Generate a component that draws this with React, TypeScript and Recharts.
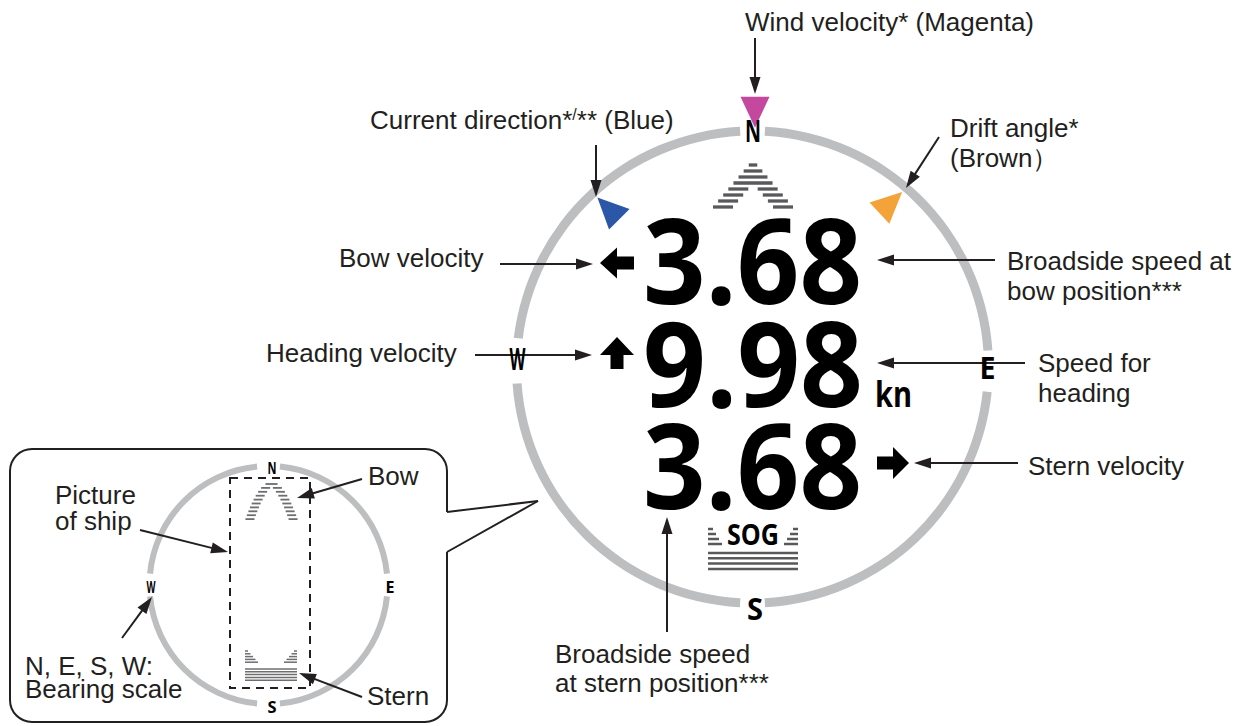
import React from 'react'
import { ComposedChart, XAxis, YAxis, Scatter, ReferenceLine, ReferenceArea, PieChart, Pie, Cell } from 'recharts'

const W = 1247
const H = 726
const INK = '#231f20'
const RING = '#bcbec0'
const HATCH = '#58595b'
const LABEL_FONT = "'Liberation Sans', Arial, sans-serif"
const DISPLAY_FONT = "'Open Sans', 'Noto Sans', sans-serif"

// ring arcs in degrees, clockwise from north: gap, arc, gap, arc ... (gaps hold N/E/S/W)
const mainRingArcs = [3, 83, 10, 81, 6, 83, 11, 80, 3]
const insetRingArcs = [5.5, 79, 11, 79, 11, 79, 11, 79, 5.5]

// speed readouts (kn)
const readouts = [
  { x: 643, y: 304, value: '3.68', width: 219 },
  { x: 643, y: 407, value: '9.98', width: 220 },
  { x: 643, y: 509, value: '3.68', width: 219 },
]
const units = [{ x: 875, y: 407, text: 'kn' }]

const bearings = [
  { x: 753, y: 142, text: 'N' },
  { x: 987.5, y: 379, text: 'E' },
  { x: 755, y: 620, text: 'S' },
  { x: 517.5, y: 370, text: 'W' },
]
const insetBearings = [
  { x: 272, y: 474, text: 'N' },
  { x: 390, y: 593, text: 'E' },
  { x: 272, y: 713, text: 'S' },
  { x: 151, y: 593, text: 'W' },
]

// direction pointers: angle of the tip, screen degrees
const pointers = [
  { x: 755, y: 107, angle: 90, name: 'wind' },
  { x: 612, y: 212, angle: 225, name: 'current' },
  { x: 887, y: 206, angle: -43, name: 'drift' },
]
const POINTER_COLORS: Record<string, string> = { wind: '#c4489e', current: '#2c56a6', drift: '#f4a23a' }

const glyphs = [
  { x: 617, y: 263, kind: 'left' },
  { x: 617, y: 353, kind: 'up' },
  { x: 893, y: 463, kind: 'right' },
  { x: 753, y: 160, kind: 'bow' },
  { x: 753, y: 550, kind: 'sog' },
  { x: 271.5, y: 482, kind: 'bowSmall' },
  { x: 271, y: 666, kind: 'sternSmall' },
]

const labels = [
  { x: 745, y: 31, text: 'Wind velocity* (Magenta)' },
  { x: 370, y: 129, text: 'Current direction*', sup: '/', tail: '** (Blue)' },
  { x: 950, y: 137, text: 'Drift angle*' },
  { x: 950, y: 167, text: '(Brown）' },
  { x: 339, y: 267, text: 'Bow velocity' },
  { x: 1007, y: 270, text: 'Broadside speed at' },
  { x: 1007, y: 300, text: 'bow position***' },
  { x: 266, y: 362, text: 'Heading velocity' },
  { x: 1038, y: 372, text: 'Speed for' },
  { x: 1038, y: 402, text: 'heading' },
  { x: 1028, y: 475, text: 'Stern velocity' },
  { x: 555, y: 663, text: 'Broadside speed' },
  { x: 555, y: 692, text: 'at stern position***' },
  { x: 368, y: 485, text: 'Bow' },
  { x: 55, y: 504, text: 'Picture' },
  { x: 55, y: 530, text: 'of ship' },
  { x: 25, y: 675, text: 'N, E, S, W:' },
  { x: 25, y: 698, text: 'Bearing scale' },
  { x: 367, y: 705, text: 'Stern' },
]

const arrows = [
  { x1: 755, y1: 38, x2: 755, y2: 94 },
  { x1: 596, y1: 145, x2: 596, y2: 197 },
  { x1: 939, y1: 137, x2: 906, y2: 188 },
  { x1: 500, y1: 264, x2: 593, y2: 264 },
  { x1: 995, y1: 260, x2: 877, y2: 260 },
  { x1: 475, y1: 355, x2: 592, y2: 355 },
  { x1: 1025, y1: 363, x2: 877, y2: 363 },
  { x1: 1018, y1: 463, x2: 914, y2: 463 },
  { x1: 667, y1: 632, x2: 667, y2: 517 },
  { x1: 362, y1: 479, x2: 297, y2: 498 },
  { x1: 140, y1: 530, x2: 228, y2: 552 },
  { x1: 122, y1: 638, x2: 152, y2: 597 },
  { x1: 362, y1: 697, x2: 299, y2: 673 },
]

// inset callout box and its tail toward the main dial
const callout = { x1: 10, x2: 447, y1: 449, y2: 722, tailTop: 512, tailBottom: 552 }
const calloutTail = [
  { x1: 447, y1: 512, x2: 538, y2: 501 },
  { x1: 447, y1: 552, x2: 538, y2: 501 },
]
const shipOutline = { x1: 230, x2: 310, y1: 478, y2: 688 }

const pts = (cx: number, cy: number, list: number[][]) => list.map(([a, b]) => `${cx + a},${cy + b}`).join(' ')

function ArrowShape(p: any) {
  const { x1, y1, x2, y2 } = p
  const dx = x2 - x1
  const dy = y2 - y1
  const len = Math.hypot(dx, dy) || 1
  const ux = dx / len
  const uy = dy / len
  const hl = 17
  const hw = 5.5
  const bx = x2 - ux * hl
  const by = y2 - uy * hl
  return (
    <g>
      <line x1={x1} y1={y1} x2={bx + ux * 2} y2={by + uy * 2} stroke={INK} strokeWidth={2} />
      <polygon points={`${x2},${y2} ${bx - uy * hw},${by + ux * hw} ${bx + uy * hw},${by - ux * hw}`} fill={INK} />
    </g>
  )
}

function CalloutShape(p: any) {
  const { x, y, width: w, height: h } = p
  const r = 22
  const t = ((callout.tailTop - callout.y1) / (callout.y2 - callout.y1)) * h
  const b = ((callout.tailBottom - callout.y1) / (callout.y2 - callout.y1)) * h
  const d = `M${x + w},${y + b} V${y + h - r} A${r},${r} 0 0 1 ${x + w - r},${y + h} H${x + r} A${r},${r} 0 0 1 ${x},${y + h - r} V${y + r} A${r},${r} 0 0 1 ${x + r},${y} H${x + w - r} A${r},${r} 0 0 1 ${x + w},${y + r} V${y + t}`
  return <path d={d} fill="none" stroke={INK} strokeWidth={2} />
}

function LabelShape(p: any) {
  const d = p.payload
  return (
    <text x={p.cx} y={p.cy} fontFamily={LABEL_FONT} fontSize={26} fill={INK}>
      {d.text}
      {d.sup && <tspan fontSize={16} dy={-9}>{d.sup}</tspan>}
      {d.tail && <tspan dy={d.sup ? 9 : 0}>{d.tail}</tspan>}
    </text>
  )
}

function ReadoutShape(p: any) {
  const d = p.payload
  return (
    <text x={p.cx} y={p.cy} fontFamily={DISPLAY_FONT} fontWeight={700} fontSize={119} fill="#000"
      textLength={d.width} lengthAdjust="spacingAndGlyphs">
      {d.value}
    </text>
  )
}

function UnitShape(p: any) {
  return (
    <text x={p.cx} y={p.cy} fontFamily={DISPLAY_FONT} fontWeight={700} fontSize={36} fill="#000"
      textLength={37} lengthAdjust="spacingAndGlyphs">
      {p.payload.text}
    </text>
  )
}

const bearingShape = (size: number, len: number) => (p: any) => (
  <text x={p.cx} y={p.cy} textAnchor="middle" fontFamily={DISPLAY_FONT} fontWeight={700} fontSize={size} fill="#000"
    textLength={len} lengthAdjust="spacingAndGlyphs">
    {p.payload.text}
  </text>
)

function PointerShape(p: any) {
  const d = p.payload
  const a = (d.angle * Math.PI) / 180
  const ux = Math.cos(a)
  const uy = Math.sin(a)
  const h = 31
  const half = 14.5
  const tip = [p.cx + ux * (h * 2) / 3, p.cy + uy * (h * 2) / 3]
  const bx = p.cx - ux * h / 3
  const by = p.cy - uy * h / 3
  return (
    <polygon
      points={`${tip[0]},${tip[1]} ${bx - uy * half},${by + ux * half} ${bx + uy * half},${by - ux * half}`}
      fill={POINTER_COLORS[d.name]}
    />
  )
}

function hatchBow(cx: number, apex: number, rows: number, first: number, step: number, depth: number, hw: number, leg: number, t: number, curved: boolean, color: string) {
  const out: React.ReactNode[] = []
  for (let i = 0; i < rows; i++) {
    const dy = first + i * step
    const y = apex + dy
    const f = dy / depth
    const ow = hw * (curved ? Math.sqrt(f) : f)
    const iw = ow - leg
    if (iw > 1) {
      out.push(<line key={`a${i}`} x1={cx - ow} x2={cx - iw} y1={y} y2={y} stroke={color} strokeWidth={t} />)
      out.push(<line key={`b${i}`} x1={cx + iw} x2={cx + ow} y1={y} y2={y} stroke={color} strokeWidth={t} />)
    } else {
      out.push(<line key={`c${i}`} x1={cx - ow} x2={cx + ow} y1={y} y2={y} stroke={color} strokeWidth={t} />)
    }
  }
  return out
}

function hatchStern(cx: number, cy: number, half: number, stairRows: number, stairStep: number, stairW0: number, stairDW: number, lineRows: number, lineStep: number, t: number, color: string) {
  const out: React.ReactNode[] = []
  for (let j = 0; j < stairRows; j++) {
    const y = cy - (stairRows - j) * stairStep - 1
    const w = stairW0 + stairDW * j
    out.push(<line key={`l${j}`} x1={cx - half} x2={cx - half + w} y1={y} y2={y} stroke={color} strokeWidth={t} />)
    out.push(<line key={`r${j}`} x1={cx + half - w} x2={cx + half} y1={y} y2={y} stroke={color} strokeWidth={t} />)
  }
  for (let i = 0; i < lineRows; i++) {
    const y = cy + 3 + i * lineStep
    out.push(<line key={`f${i}`} x1={cx - half} x2={cx + half} y1={y} y2={y} stroke={color} strokeWidth={t} />)
  }
  return out
}

function GlyphShape(p: any) {
  const { cx, cy } = p
  const kind = p.payload.kind
  if (kind === 'left') {
    return <polygon points={pts(cx, cy, [[-17, 0], [0, -15.5], [0, -6.5], [17, -6.5], [17, 6.5], [0, 6.5], [0, 15.5]])} fill="#000" />
  }
  if (kind === 'right') {
    return <polygon points={pts(cx, cy, [[16, 0], [0, -16], [0, -6.5], [-16, -6.5], [-16, 6.5], [0, 6.5], [0, 16]])} fill="#000" />
  }
  if (kind === 'up') {
    return <polygon points={pts(cx, cy, [[0, -16], [17, 2], [6.5, 2], [6.5, 16], [-6.5, 16], [-6.5, 2], [-17, 2]])} fill="#000" />
  }
  if (kind === 'bow') {
    return <g>{hatchBow(cx, cy, 8, 5, 6, 47, 40, 20, 3.3, false, HATCH)}</g>
  }
  if (kind === 'bowSmall') {
    return <g>{hatchBow(cx, cy, 10, 2, 3.9, 37, 26, 9, 1.8, true, '#6d6e71')}</g>
  }
  if (kind === 'sog') {
    return (
      <g>
        <text x={cx} y={cy - 5} textAnchor="middle" fontFamily={DISPLAY_FONT} fontWeight={700} fontSize={28} fill="#000"
          textLength={52} lengthAdjust="spacingAndGlyphs">SOG</text>
        {hatchStern(cx, cy, 45, 4, 5, 5, 3, 4, 5.3, 2.5, HATCH)}
      </g>
    )
  }
  if (kind === 'sternSmall') {
    return <g>{hatchStern(cx, cy, 26, 5, 2.8, 3, 2.5, 5, 2.8, 1.5, '#6d6e71')}</g>
  }
  return <g />
}

const ringData = (arcs: number[]) => arcs.map((v, i) => ({ name: `seg${i}`, value: v }))

export default function App() {
  const mainRing = ringData(mainRingArcs)
  const insetRing = ringData(insetRingArcs)
  const zero = { top: 0, right: 0, bottom: 0, left: 0 }
  return (
    <div style={{ position: 'absolute', left: 0, top: 0, width: W, height: H, background: '#fff' }}>
      <div style={{ position: 'absolute', left: 0, top: 0 }}>
        <PieChart width={W} height={H} margin={zero}>
          <Pie data={mainRing} dataKey="value" cx={752.5} cy={367} innerRadius={231.5} outerRadius={240.5}
            startAngle={90} endAngle={-270} stroke="none" isAnimationActive={false}>
            {mainRing.map((_, i) => <Cell key={i} fill={i % 2 ? RING : 'transparent'} />)}
          </Pie>
          <Pie data={insetRing} dataKey="value" cx={268.5} cy={585} innerRadius={116} outerRadius={122}
            startAngle={90} endAngle={-270} stroke="none" isAnimationActive={false}>
            {insetRing.map((_, i) => <Cell key={i} fill={i % 2 ? RING : 'transparent'} />)}
          </Pie>
        </PieChart>
      </div>
      <div style={{ position: 'absolute', left: 0, top: 0 }}>
        <ComposedChart width={W} height={H} margin={zero}>
          <XAxis type="number" dataKey="x" domain={[0, W]} hide allowDataOverflow />
          <YAxis type="number" dataKey="y" domain={[0, H]} hide reversed allowDataOverflow />

          <ReferenceArea x1={callout.x1} x2={callout.x2} y1={callout.y1} y2={callout.y2} shape={CalloutShape} />
          <ReferenceArea x1={shipOutline.x1} x2={shipOutline.x2} y1={shipOutline.y1} y2={shipOutline.y2}
            fill="none" fillOpacity={0} stroke={INK} strokeWidth={2} strokeDasharray="8 6" />
          {calloutTail.map((s, i) => (
            <ReferenceLine key={`t${i}`} segment={[{ x: s.x1, y: s.y1 }, { x: s.x2, y: s.y2 }]} stroke={INK} strokeWidth={2} />
          ))}

          <Scatter data={pointers} shape={PointerShape} isAnimationActive={false} />
          <Scatter data={glyphs} shape={GlyphShape} isAnimationActive={false} />
          <Scatter data={bearings} shape={bearingShape(30, 16)} isAnimationActive={false} />
          <Scatter data={insetBearings} shape={bearingShape(16, 9)} isAnimationActive={false} />
          <Scatter data={readouts} shape={ReadoutShape} isAnimationActive={false} />
          <Scatter data={units} shape={UnitShape} isAnimationActive={false} />
          <Scatter data={labels} shape={LabelShape} isAnimationActive={false} />

          {arrows.map((a, i) => (
            <ReferenceLine key={`a${i}`} segment={[{ x: a.x1, y: a.y1 }, { x: a.x2, y: a.y2 }]} shape={ArrowShape} />
          ))}
        </ComposedChart>
      </div>
    </div>
  )
}
